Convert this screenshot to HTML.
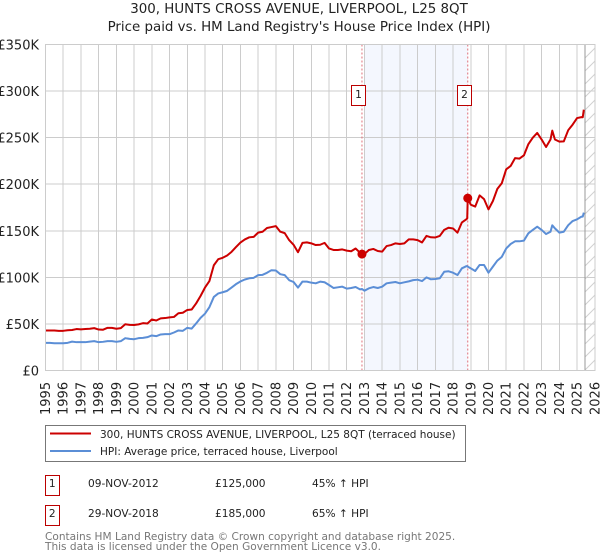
<!DOCTYPE html>
<html lang="en">
<head>
<meta charset="utf-8">
<title>300, HUNTS CROSS AVENUE, LIVERPOOL, L25 8QT</title>
<style>
html,body{margin:0;padding:0;background:#fff;}
svg{display:block;font-family:"DejaVu Sans",sans-serif;}
</style>
</head>
<body>
<svg id="chart" xmlns="http://www.w3.org/2000/svg" width="600" height="560" viewBox="0 0 600 560">
  <defs>
    <pattern id="hatch" patternUnits="userSpaceOnUse" x="585" y="45" width="13" height="13">
      <line x1="0" y1="13" x2="13" y2="0" stroke="#d0d0d0" stroke-width="1"/>
    </pattern>
  </defs>
  <text x="299" y="13" text-anchor="middle" font-size="13.4" fill="#222">300, HUNTS CROSS AVENUE, LIVERPOOL, L25 8QT</text>
  <text x="299" y="31" text-anchor="middle" font-size="13.4" fill="#222">Price paid vs. HM Land Registry's House Price Index (HPI)</text>
  <g id="plot"></g>

  <g>
    <rect x="45.5" y="425.5" width="420" height="36" fill="#fff" stroke="#777" stroke-width="1"/>
    <line x1="50" y1="433.5" x2="91" y2="433.5" stroke="#cc0000" stroke-width="2"/>
    <text x="100" y="438" font-size="10.5" fill="#222">300, HUNTS CROSS AVENUE, LIVERPOOL, L25 8QT (terraced house)</text>
    <line x1="50" y1="451" x2="91" y2="451" stroke="#5b8ed6" stroke-width="2"/>
    <text x="100" y="455" font-size="10.5" fill="#222">HPI: Average price, terraced house, Liverpool</text>
  </g>

  <g font-size="10.6" fill="#222">
    <rect x="45.5" y="475.5" width="14" height="20" fill="#fff" stroke="#bb0000"/>
    <text x="52.3" y="487" text-anchor="middle">1</text>
    <text x="88" y="487">09-NOV-2012</text>
    <text x="215" y="487">£125,000</text>
    <text x="312" y="487">45% ↑ HPI</text>
    <rect x="45.5" y="505.5" width="14" height="20" fill="#fff" stroke="#bb0000"/>
    <text x="52.3" y="517" text-anchor="middle">2</text>
    <text x="88" y="517">29-NOV-2018</text>
    <text x="215" y="517">£185,000</text>
    <text x="312" y="517">65% ↑ HPI</text>
  </g>

  <g font-size="10.55" fill="#777">
    <text x="45" y="540">Contains HM Land Registry data © Crown copyright and database right 2025.</text>
    <text x="45" y="550">This data is licensed under the Open Government Licence v3.0.</text>
  </g>
</svg>
<script>
const yearTicks = [1995,1996,1997,1998,1999,2000,2001,2002,2003,2004,2005,2006,2007,2008,2009,2010,2011,2012,2013,2014,2015,2016,2017,2018,2019,2020,2021,2022,2023,2024,2025,2026];
const valueTicks = [0,50,100,150,200,250,300,350];
const valueTickLabels = ['£0','£50K','£100K','£150K','£200K','£250K','£300K','£350K'];
const dates = [
1995,1995.25,1995.5,1995.75,1996,1996.25,1996.5,1996.75,1997,1997.25,1997.5,1997.75,
1998,1998.25,1998.5,1998.75,1999,1999.25,1999.5,1999.75,2000,2000.25,2000.5,2000.75,
2001,2001.25,2001.5,2001.75,2002,2002.25,2002.5,2002.75,2003,2003.25,2003.5,2003.75,
2004,2004.25,2004.5,2004.75,2005,2005.25,2005.5,2005.75,2006,2006.25,2006.5,2006.75,
2007,2007.25,2007.5,2007.75,2008,2008.25,2008.5,2008.75,2009,2009.25,2009.5,2009.75,
2010,2010.25,2010.5,2010.75,2011,2011.25,2011.5,2011.75,2012,2012.25,2012.5,2012.75,2012.86,
2013,2013.25,2013.5,2013.75,2014,2014.25,2014.5,2014.75,2015,2015.25,2015.5,2015.75,
2016,2016.25,2016.5,2016.75,2017,2017.25,2017.5,2017.75,2018,2018.25,2018.5,2018.75,2018.8,2018.83,
2019,2019.25,2019.5,2019.75,2020,2020.25,2020.5,2020.75,2021,2021.25,2021.5,2021.75,
2022,2022.25,2022.5,2022.75,2023,2023.25,2023.5,2023.6,2023.75,2024,2024.25,2024.5,2024.75,
2025,2025.25,2025.32,2025.38];
const priceValues = [
43,42.9,43,42.6,42.6,43.2,43.5,44.5,44.2,44.5,44.8,45.5,
44,43.8,45.8,45.8,44.8,45.5,49.7,49,48.8,49.5,50.8,50.5,
54.8,53.7,56,56.3,57,57.5,61.5,62,65,65.5,72,80,
89,96,113,119.5,121,123.5,127.4,132.5,137.4,140.7,143,143.5,
148,149,153,154,155,149,147.5,140,135,127,137,137.6,
136.5,134.7,135,137,131,129.4,129.4,130,128.7,128,131,126.5,125,
125,129.4,130.5,128.3,127.6,133.6,134.7,136.5,135.8,136.5,140.8,140.8,
140,137.5,144.5,143,142.8,144.5,151,153.3,152.5,148,159,162.3,163.4,185,
178,176,188,184,173,182,195,201,216,219.6,228,227.5,
231,243,250,255,248,240,248,257.5,248,245.7,246,258,264,
271,272,271.9,280];
const hpiValues = [
29.7,29.7,29.3,29.3,29.3,29.7,31,30.4,30.4,30.4,31,31.5,
30.4,30.8,31.5,31.5,30.8,31.5,34.7,34,33.6,34.7,35,35.8,
37.6,36.9,38.7,39,39,40.8,43,42.6,45.8,45,50.5,56.5,
61,68,79,82.7,84,85.5,89,92.7,95.6,97.7,99,99.5,
102.4,102.7,104.9,107.7,107.4,103.4,102.4,97,95,89,95.4,95.4,
94.3,93.6,95.4,94.7,91.8,88.6,89.3,90,87.9,88.6,89.6,87.1,87.5,
85.7,88.2,89.6,88.6,90,93.6,94.3,95,93.6,94.7,95.7,97,
97.5,96,100,97.9,98.2,99,106,106.5,105,102.5,109.7,112,112,111.5,
109.7,106.8,113.3,113.3,105,111.5,118,122,131,135.8,138.7,138.7,
139.4,147.3,150.9,154.4,150.9,146.5,149,155.9,152.6,148,149,156,160.5,
162.3,165.2,165.2,169.5];
const saleDates = [2012.86,2018.83];
const salePrices = [125,185];
const saleLabels = ['1','2'];
const shadeRange = [2013,2018.83];
const forecastStart = 2025.46;

const NS = 'http://www.w3.org/2000/svg';
const plot = document.getElementById('plot');
const left = 45.5, right = 594.8, top_ = 44.5, bottom = 370.5;
function xScale(year){ return left + (year - 1995) * (right - left) / 31; }
function yScale(value){ return bottom - value * (bottom - top_) / 350; }
function make(tag, attrs, parent){
  const el = document.createElementNS(NS, tag);
  for (const k in attrs) el.setAttribute(k, attrs[k]);
  (parent || plot).appendChild(el);
  return el;
}

const shade = make('rect', {x: xScale(shadeRange[0]), y: top_, width: xScale(shadeRange[1]) - xScale(shadeRange[0]), height: bottom - top_, fill: '#f4f7fe'});



valueTicks.forEach(function(v, i){
  const g = make('line', {x1: left, x2: right, y1: yScale(v), y2: yScale(v), stroke: '#cccccc', 'stroke-width': 1, 'shape-rendering': 'crispEdges'});
  
  
  const t = make('text', {x: 39, y: yScale(v) + 5, 'text-anchor': 'end', 'font-size': 13, fill: '#222'});
  t.textContent = valueTickLabels[i];
  
  
});

yearTicks.forEach(function(y){
  const g = make('line', {x1: xScale(y), x2: xScale(y), y1: top_, y2: bottom, stroke: '#cccccc', 'stroke-width': 1, 'shape-rendering': 'crispEdges'});
  
  
  const t = make('text', {transform: 'translate(' + (xScale(y) + 4.5) + ',415) rotate(-90)', 'font-size': 13, fill: '#222'});
  t.textContent = String(y);
  
  
});

const hatch = make('rect', {x: xScale(forecastStart), y: top_, width: right - xScale(forecastStart), height: bottom - top_, fill: 'url(#hatch)'});


const cutoff = make('line', {x1: xScale(forecastStart), x2: xScale(forecastStart), y1: top_, y2: bottom, stroke: '#999999', 'stroke-width': 1, 'shape-rendering': 'crispEdges'});



saleDates.forEach(function(d){
  const l = make('line', {x1: xScale(d), x2: xScale(d), y1: top_, y2: bottom, stroke: '#e0707a', 'stroke-width': 1, 'stroke-dasharray': '2,2'});
  
  
});

function linePath(values){
  return values.map(function(v, i){
    return (i ? 'L' : 'M') + xScale(dates[i]).toFixed(2) + ' ' + yScale(v).toFixed(2);
  }).join('');
}
const hpiLine = make('path', {d: linePath(hpiValues), fill: 'none', stroke: '#5b8ed6', 'stroke-width': 2, 'stroke-linejoin': 'round'});


const priceLine = make('path', {d: linePath(priceValues), fill: 'none', stroke: '#cc0000', 'stroke-width': 2, 'stroke-linejoin': 'round'});



saleDates.forEach(function(d, i){
  const m = make('circle', {cx: xScale(d), cy: yScale(salePrices[i]), r: 4.5, fill: '#cc0000'});
  
  
  const boxLeft = Math.floor(xScale(d)) - 10 + 0.5;
  const r = make('rect', {x: boxLeft, y: 85.5, width: 14, height: 20, fill: '#fff', stroke: '#bb0000', 'stroke-width': 1});
  
  
  const t = make('text', {x: boxLeft + 7, y: 98, 'text-anchor': 'middle', 'font-size': 10.6, fill: '#222'});
  t.textContent = saleLabels[i];
  
  
});

const frame = make('rect', {x: left, y: top_, width: right - left, height: bottom - top_, fill: 'none', stroke: '#cccccc', 'stroke-width': 1, 'shape-rendering': 'crispEdges'});


</script>
</body>
</html>
